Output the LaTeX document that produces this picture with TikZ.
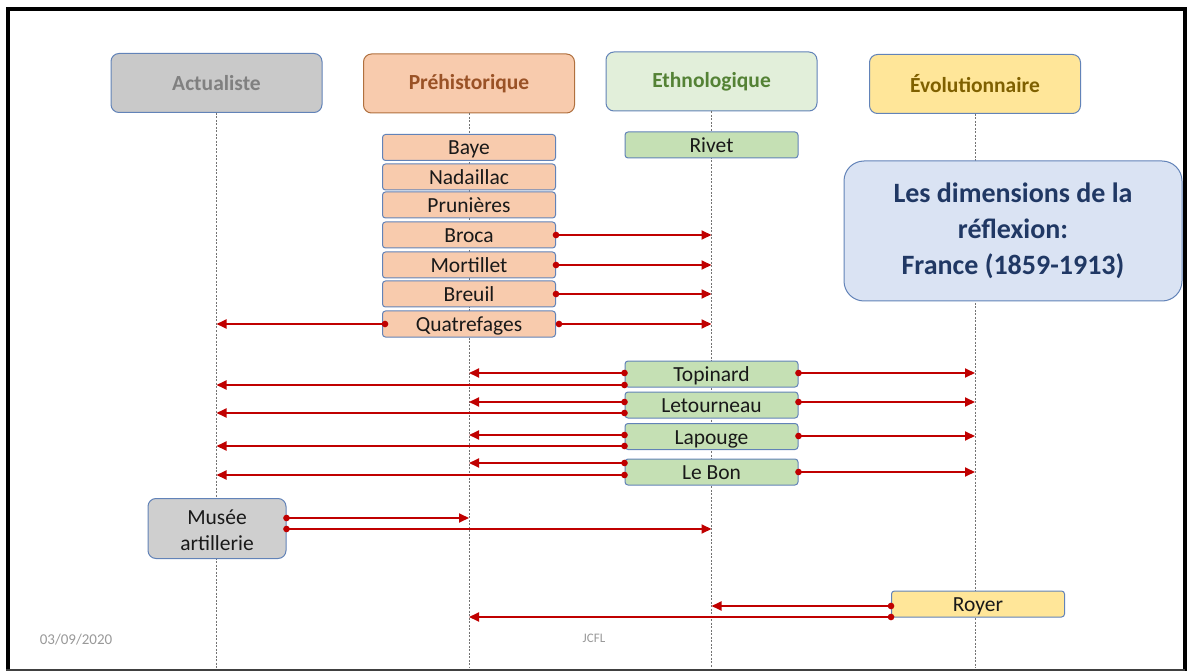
\documentclass[tikz,border=0pt]{standalone}
\usepackage{fontspec}
\setmainfont{Carlito}
\usetikzlibrary{arrows.meta}

\definecolor{arrred}{HTML}{C00000}
\definecolor{boxblue}{HTML}{6283B8}
\definecolor{actfill}{HTML}{C9C9C9}
\definecolor{prefill}{HTML}{F8CBAD}
\definecolor{prebrown}{HTML}{B0703E}
\definecolor{pretext}{HTML}{9A5226}
\definecolor{ethfill}{HTML}{E2EFDA}
\definecolor{ethbox}{HTML}{C5E0B4}
\definecolor{ethtext}{HTML}{548235}
\definecolor{evofill}{HTML}{FFE699}
\definecolor{evotext}{HTML}{7F6000}
\definecolor{titlefill}{HTML}{DAE3F3}
\definecolor{titletext}{HTML}{203864}

\begin{document}
\begin{tikzpicture}[x=1pt, y=-1pt,
	header/.style={draw=boxblue, line width=1pt, rounded corners=8pt, minimum width=211pt, minimum height=59pt, inner sep=0pt, font=\fontsize{21.5}{24}\selectfont\bfseries},
	personbox/.style={draw=boxblue, line width=1pt, rounded corners=3pt, minimum width=173pt, minimum height=26pt, inner sep=0pt, text height=17pt, text depth=2pt, font=\fontsize{21.5}{24}\selectfont, text=black!90},
	lifeline/.style={draw=black!55, line width=0.5pt, dash pattern=on 2pt off 1.5pt},
	msg/.style={draw=arrred, line width=1.8pt, {Circle[length=6.5pt]}-{Triangle[length=10pt,width=9pt]}, shorten <=-3.25pt}]
			\useasboundingbox (0,0) rectangle (1187,671);
			\fill[white] (0,0) rectangle (1187,671);
			%%
			\node[header, fill=actfill, text=black!50] (act) at (216.5,83) {Actualiste};
			\node[header, fill=prefill, draw=prebrown, text=pretext] (pre) at (469,83.5) {Préhistorique};
			\node[header, fill=ethfill, text=ethtext] (eth) at (711.5,81.5) {Ethnologique};
			\node[header, fill=evofill, text=evotext] (evo) at (975,84) {Évolutionnaire};
			%%
			\draw[lifeline] (act.south) -- (act.south |- 0,668);
			\draw[lifeline] (pre.south) -- (pre.south |- 0,668);
			\draw[lifeline] (eth.south) -- (eth.south |- 0,668);
			\draw[lifeline] (evo.south) -- (evo.south |- 0,668);
			%%
			\node[personbox, fill=prefill] (baye) at (469,147.5) {Baye};
			\node[personbox, fill=prefill] (nada) at (469,177) {Nadaillac};
			\node[personbox, fill=prefill] (prun) at (469,205) {Prunières};
			\node[personbox, fill=prefill] (broca) at (469,235) {Broca};
			\node[personbox, fill=prefill] (mort) at (469,265) {Mortillet};
			\node[personbox, fill=prefill] (breuil) at (469,294) {Breuil};
			\node[personbox, fill=prefill] (quat) at (469,324) {Quatrefages};
			%%
			\node[personbox, fill=ethbox] (rivet) at (711.5,145) {Rivet};
			\node[personbox, fill=ethbox] (topi) at (711.5,374) {Topinard};
			\node[personbox, fill=ethbox] (leto) at (711.5,405) {Letourneau};
			\node[personbox, fill=ethbox] (lapo) at (711.5,436.5) {Lapouge};
			\node[personbox, fill=ethbox] (lebon) at (711.5,472) {Le Bon};
			%%
			\node[personbox, fill=black!19, rounded corners=8pt, minimum width=138pt, minimum height=60pt, text height=, text depth=, align=center, font=\fontsize{21.5}{26}\selectfont] (musee) at (217,528.5) {\strut Musée\\artillerie};
			\node[personbox, fill=evofill] (royer) at (978,604) {Royer};
			%%
			\node[draw=boxblue, line width=1pt, fill=titlefill, rounded corners=20pt, minimum width=338pt, minimum height=140pt, align=center, text=titletext, font=\fontsize{28}{36}\selectfont\bfseries] (title) at (1013,231) {Les dimensions de la\\réflexion:\\France (1859-1913)};
			%%
			\draw[msg] (broca.east) -- (broca.east -| eth.south);
			\draw[msg] (mort.east) -- (mort.east -| eth.south);
			\draw[msg] (breuil.east) -- (breuil.east -| eth.south);
			\draw[msg] ([xshift=3pt]quat.east) -- (quat.east -| eth.south);
			\draw[msg] ([xshift=3pt]quat.west) -- (quat.west -| act.south);
			%%
			\draw[msg] (topi.west |- 0,373) -- (pre.south |- 0,373);
			\draw[msg] (topi.west |- 0,385) -- (act.south |- 0,385);
			\draw[msg] (topi.east |- 0,373) -- (evo.south |- 0,373);
			\draw[msg] (leto.west |- 0,402) -- (pre.south |- 0,402);
			\draw[msg] (leto.west |- 0,413) -- (act.south |- 0,413);
			\draw[msg] (leto.east |- 0,402) -- (evo.south |- 0,402);
			\draw[msg] (lapo.west |- 0,435) -- (pre.south |- 0,435);
			\draw[msg] (lapo.west |- 0,446) -- (act.south |- 0,446);
			\draw[msg] (lapo.east |- 0,436) -- (evo.south |- 0,436);
			\draw[msg] (lebon.west |- 0,463) -- (pre.south |- 0,463);
			\draw[msg] (lebon.west |- 0,475) -- (act.south |- 0,475);
			\draw[msg] (lebon.east |- 0,472) -- (evo.south |- 0,472);
			%%
			\draw[msg] (musee.east |- 0,518) -- (pre.south |- 0,518);
			\draw[msg] (musee.east |- 0,529) -- (eth.south |- 0,529);
			\draw[msg] (royer.west |- 0,606) -- (eth.south |- 0,606);
			\draw[msg] (royer.west |- 0,617) -- (pre.south |- 0,617);
			%%
			\node[text=black!40, font=\fontsize{15}{18}\selectfont] (date) at (76,640) {03/09/2020};
			\node[text=black!40, font=\fontsize{13}{16}\selectfont] (jcfl) at (594,638) {JCFL};
			%%
			\draw[line width=4pt] (8,669) -- (8,9) -- (1185,9) -- (1185,671);
			\draw[line width=2pt, black!75] (6,670) -- (1185,670);
		\end{tikzpicture}
\end{document}
